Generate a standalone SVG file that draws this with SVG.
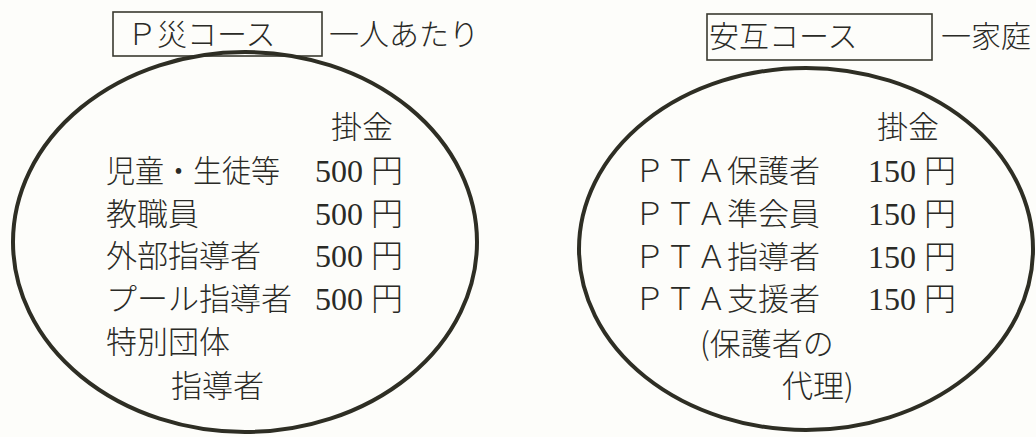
<svg xmlns="http://www.w3.org/2000/svg" width="1036" height="437" viewBox="0 0 1036 437">
<style>
.bg{fill:#fdfdfa}
.box{fill:none;stroke:#3a3a30;stroke-width:1.6}
.oval{fill:none;stroke:#2e2e24;stroke-width:4}
text{font-family:"Noto Sans CJK JP","Liberation Sans",sans-serif;font-size:31px;fill:#2a2a26;font-weight:300}
.hd{font-size:30px}
.num{font-family:"Liberation Serif","Noto Sans CJK JP",serif;font-size:32px}
</style>
<rect class="bg" x="0" y="0" width="1036" height="437"/>
<g id="p-course">
<rect class="box" x="113" y="12" width="209" height="44"/>
<text class="hd" x="127" y="45">Ｐ災コース</text>
<text class="hd" x="329" y="45">一人あたり</text>
<ellipse class="oval" cx="245" cy="242" rx="232" ry="190"/>
<text x="331" y="138">掛金</text>
<text x="106" y="182" textLength="174" lengthAdjust="spacingAndGlyphs">児童・生徒等</text>
<text class="num" x="315" y="182">500 円</text>
<text x="106" y="225">教職員</text>
<text class="num" x="315" y="225">500 円</text>
<text x="106" y="267">外部指導者</text>
<text class="num" x="315" y="267">500 円</text>
<text x="106" y="310">プール指導者</text>
<text class="num" x="315" y="310">500 円</text>
<text x="106" y="353">特別団体</text>
<text x="171" y="397">指導者</text>
</g>
<g id="a-course">
<rect class="box" x="707" y="14" width="225" height="46"/>
<text class="hd" x="709" y="47">安互コース</text>
<text class="hd" x="941" y="47">一家庭</text>
<ellipse class="oval" cx="806" cy="249" rx="227" ry="181"/>
<text x="877" y="138">掛金</text>
<text x="634" y="182">ＰＴＡ保護者</text>
<text class="num" x="868" y="182">150 円</text>
<text x="634" y="225">ＰＴＡ準会員</text>
<text class="num" x="868" y="225">150 円</text>
<text x="634" y="268">ＰＴＡ指導者</text>
<text class="num" x="868" y="268">150 円</text>
<text x="634" y="310">ＰＴＡ支援者</text>
<text class="num" x="868" y="310">150 円</text>
<text x="700" y="355">(保護者の</text>
<text x="782" y="397">代理)</text>
</g>
<g id="connectors"></g>
</svg>
